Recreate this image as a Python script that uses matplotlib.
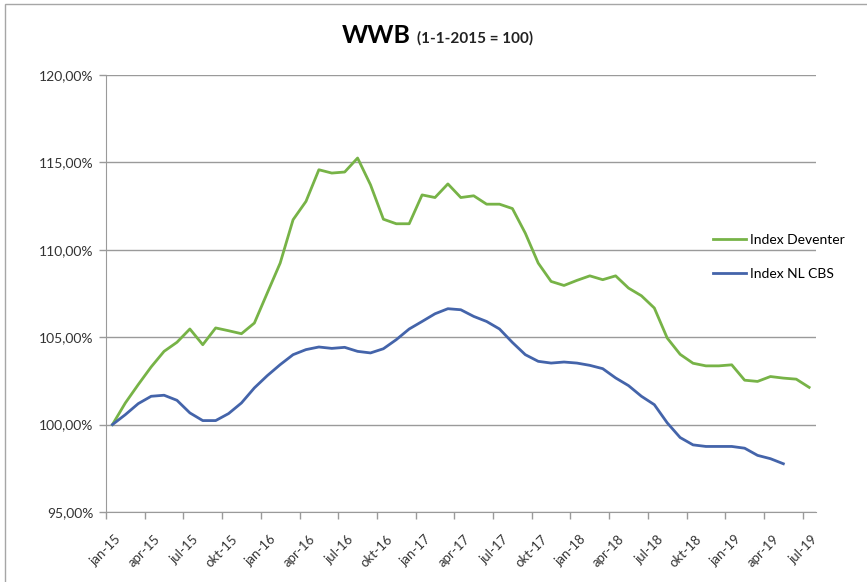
import matplotlib
matplotlib.use('Agg')
import matplotlib.pyplot as plt
from matplotlib.patches import Rectangle

plt.rcParams['font.family'] = ['Lato', 'DejaVu Sans']

# monthly values, jan-15 .. jul-19 (Deventer) and jan-15 .. may-19 (NL CBS)
months = ['jan', 'feb', 'mrt', 'apr', 'mei', 'jun', 'jul', 'aug', 'sep', 'okt', 'nov', 'dec']
labels = [f'{m}-{y}' for y in range(15, 20) for m in months][:55]

deventer = [100.00, 101.24, 102.29, 103.30, 104.19, 104.71, 105.47, 104.57, 105.53, 105.37,
            105.20, 105.81, 107.53, 109.24, 111.72, 112.77, 114.58, 114.39, 114.45, 115.25,
            113.72, 111.75, 111.49, 111.49, 113.14, 112.99, 113.77, 112.99, 113.09, 112.61,
            112.61, 112.36, 110.95, 109.24, 108.19, 107.96, 108.25, 108.51, 108.29, 108.51,
            107.81, 107.37, 106.67, 104.95, 104.02, 103.51, 103.36, 103.36, 103.42, 102.54,
            102.47, 102.75, 102.66, 102.60, 102.13]

nl_cbs = [100.00, 100.57, 101.20, 101.62, 101.68, 101.39, 100.67, 100.23, 100.23, 100.63,
          101.24, 102.10, 102.80, 103.43, 104.00, 104.29, 104.44, 104.36, 104.42, 104.19,
          104.10, 104.34, 104.86, 105.47, 105.90, 106.34, 106.63, 106.57, 106.19, 105.90,
          105.47, 104.70, 104.00, 103.62, 103.52, 103.58, 103.52, 103.39, 103.20, 102.67,
          102.23, 101.62, 101.14, 100.10, 99.26, 98.84, 98.75, 98.75, 98.75, 98.65,
          98.24, 98.05, 97.76]

green = '#77B347'
blue = '#4464AA'
grid_col = '#9a9a9a'

fig = plt.figure(figsize=(8.67, 5.82), dpi=100)
ax = fig.add_axes([106 / 867, 70 / 582, 709.6 / 867, 437 / 582])

ax.plot(range(len(deventer)), deventer, color=green, lw=2.0, label='Index Deventer')
ax.plot(range(len(nl_cbs)), nl_cbs, color=blue, lw=2.0, label='Index NL CBS')

ax.set_xlim(-0.5, 54.5)
ax.set_ylim(95, 120)
ax.set_yticks(range(95, 121, 5))
ax.set_yticklabels([f'{v},00%' for v in range(95, 121, 5)], fontsize=10, color='#333333')

# tick marks at month boundaries every 3 months, labels slightly to the right
tick_idx = list(range(0, 55, 3))
ax.set_xticks([i - 0.5 for i in tick_idx])
ax.set_xticklabels([])
ax.set_xticks([i + 0.2 for i in tick_idx], minor=True)
ax.set_xticklabels([labels[i] for i in tick_idx], minor=True, rotation=45, ha='right',
                   rotation_mode='anchor', fontsize=9.5, color='#333333')
ax.tick_params(axis='x', which='minor', length=0, pad=15)

ax.grid(axis='y', color=grid_col, lw=1)
ax.set_axisbelow(True)
for s in ['top', 'right']:
    ax.spines[s].set_visible(False)
for s in ['left', 'bottom']:
    ax.spines[s].set_color(grid_col)
ax.tick_params(axis='both', which='major', color=grid_col, length=5, width=1)
ax.tick_params(axis='y', pad=4)

ax.legend(loc='center left', bbox_to_anchor=(700 / 867, 1 - 257 / 582),
          bbox_transform=fig.transFigure, frameon=False, fontsize=10,
          handlelength=2.4, handletextpad=0.3, labelspacing=1.56)

fig.text(342 / 867, 1 - 43 / 582, 'WWB', fontsize=18, fontweight='bold', va='baseline')
fig.text(417 / 867, 1 - 43 / 582, '(1-1-2015 = 100)', fontsize=11, fontweight='bold',
         va='baseline', color='#222222')

# chart area border
fig.patches.append(Rectangle((5 / 867, -0.02), 1.0, 1 - 4 / 582 + 0.02, transform=fig.transFigure,
                             fill=False, edgecolor='#a6a6a6', lw=1))

fig.savefig('out.png', dpi=100)
